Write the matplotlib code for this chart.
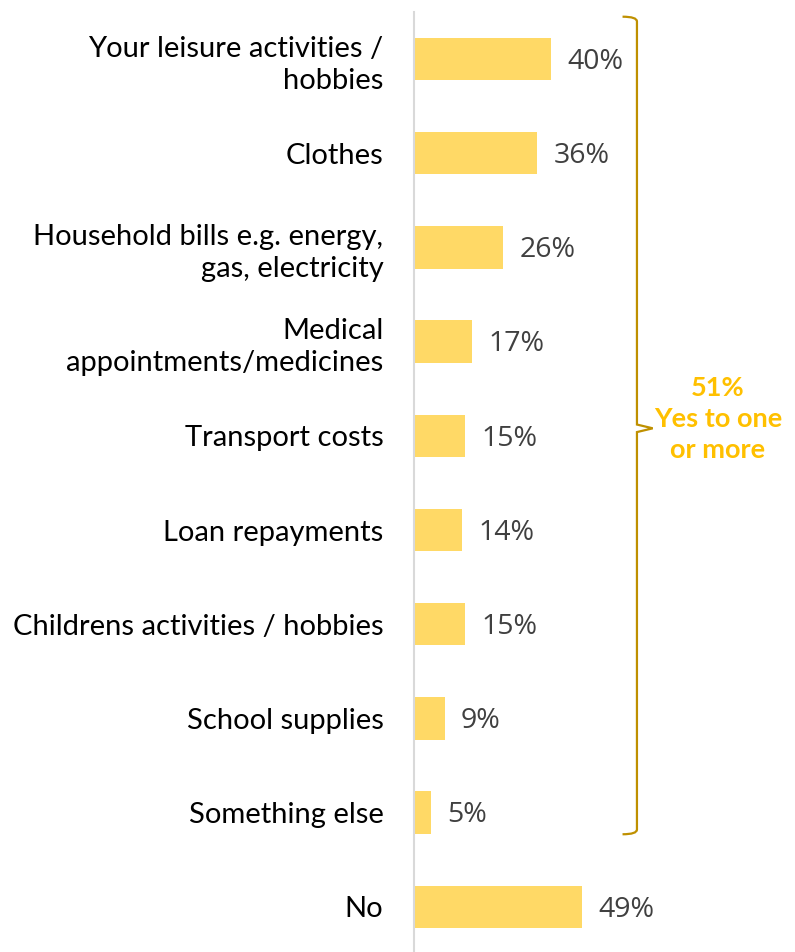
import matplotlib.pyplot as plt
from matplotlib.path import Path
from matplotlib.patches import PathPatch

categories = [
    "Your leisure activities /\nhobbies",
    "Clothes",
    "Household bills e.g. energy,\ngas, electricity",
    "Medical\nappointments/medicines",
    "Transport costs",
    "Loan repayments",
    "Childrens activities / hobbies",
    "School supplies",
    "Something else",
    "No",
]
values = [40, 36, 26, 17, 15, 14, 15, 9, 5, 49]
yes_total = 51

W, H = 795, 952
fig = plt.figure(figsize=(W / 100, H / 100), dpi=100)
ax = fig.add_axes([414 / W, 0, (W - 414) / W, (H - 12) / H])

y = list(range(len(categories)))
ax.barh(y, values, height=0.45, color="#FFD966", edgecolor="none", zorder=2)
ax.set_xlim(0, (W - 414) / 3.43)
ax.set_ylim(9.48, -0.5)

for yi, v in zip(y, values):
    ax.annotate(f"{v}%", (v, yi), xytext=(11.5, -2), textcoords="offset points",
                va="center", ha="left", fontsize=20.5, color="#404040",
                family="Open Sans")

ax.set_yticks(y)
ax.set_yticklabels(categories, fontsize=21, color="#000000", family="Lato",
                   linespacing=1.3)
ax.tick_params(axis="y", length=0, pad=22)
ax.set_xticks([])
for side in ["top", "right", "bottom"]:
    ax.spines[side].set_visible(False)
ax.spines["left"].set_color("#D9D9D9")
ax.spines["left"].set_linewidth(1.5)

# curly bracket around the "yes" answers
bx, hook, tip = 65, 4.2, 4.6
top, bot, mid = -0.45, 8.23, 3.92
verts = [
    (bx - hook, top), (bx, top), (bx, top + 0.05),
    (bx, mid - 0.04), (bx + tip, mid), (bx, mid + 0.04),
    (bx, bot - 0.05), (bx, bot), (bx - hook, bot),
]
codes = [Path.MOVETO, Path.CURVE3, Path.CURVE3,
         Path.LINETO, Path.LINETO, Path.LINETO,
         Path.LINETO, Path.CURVE3, Path.CURVE3]
ax.add_patch(PathPatch(Path(verts, codes), fill=False, edgecolor="#BF9000",
                       linewidth=1.6, clip_on=False))

ax.text(88.6, mid - 0.1, f"{yes_total}%\nYes to one\nor more", ha="center",
        va="center", fontsize=19.5, fontweight="bold", color="#FFC000",
        family="Lato", linespacing=1.35, clip_on=False)

fig.savefig("out.png", dpi=100)
